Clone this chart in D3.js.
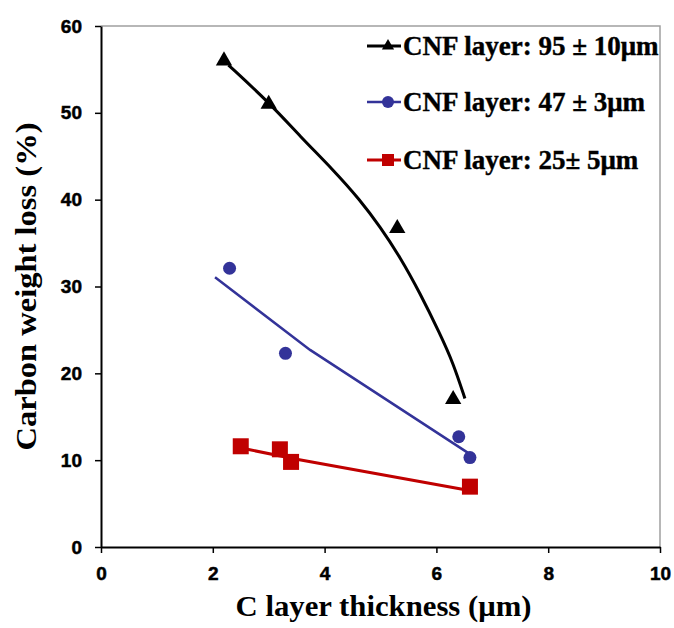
<!DOCTYPE html>
<html>
<head>
<meta charset="utf-8">
<script src="https://cdn.jsdelivr.net/npm/d3@7.9.0/dist/d3.min.js"></script>
<style>
  body { margin: 0; background: #fff; }
  svg { display: block; }
</style>
</head>
<body>
<svg id="chart" width="674" height="628"></svg>
<script>
// measured points
const blackX = [2.2, 3.0, 5.3, 6.3];
const blackY = [56, 51, 36.7, 17];
const blueX = [2.3, 3.3, 6.4, 6.6];
const blueY = [32.1, 22.3, 12.7, 10.3];
const redX = [2.5, 3.2, 3.4, 6.6];
const redY = [11.6, 11.25, 9.8, 6.95];

// trend lines as drawn in the figure
const blackTrendX = [2.28, 3.02, 3.56, 4.16, 4.63, 4.99, 5.35, 5.71, 6.06, 6.30, 6.51];
const blackTrendY = [55.5, 51.1, 47.3, 43.4, 40.0, 36.9, 33.4, 29.2, 24.6, 21.2, 17.1];
const blueTrendX = [2.04, 3.74, 6.6];
const blueTrendY = [31.06, 22.7, 10.7];
const redTrendX = [2.62, 3.5, 6.54];
const redTrendY = [11.25, 10.1, 6.56];

const xTicks = [0, 2, 4, 6, 8, 10];
const yTicks = [0, 10, 20, 30, 40, 50, 60];
const legendLabels = ['CNF layer: 95 \u00b1 10\u03bcm', 'CNF layer: 47 \u00b1 3\u03bcm', 'CNF layer: 25\u00b1 5\u03bcm'];

const svg = d3.select('#chart');
const plotL = 101, plotR = 660, plotT = 26, plotB = 547;

let x = d3.scaleLinear().domain([0, 10]).range([plotL, plotR]);
let y = d3.scaleLinear().domain([0, 60]).range([plotB, plotT]);

// grey frame on top and right
svg.append('path')
    .attr('d', `M${plotL},${plotT}H${plotR}V${plotB}`)
    .attr('fill', 'none')
    .attr('stroke', '#a0a0a0')
    .attr('stroke-width', 1.5);

let yAxis = svg.append('g')
    .attr('transform', `translate(${plotL},0)`)
    .call(d3.axisLeft(y).tickValues(yTicks).tickSize(6).tickPadding(13).tickSizeOuter(0));
let xAxis = svg.append('g')
    .attr('transform', `translate(0,${plotB})`)
    .call(d3.axisBottom(x).tickValues(xTicks).tickSize(6).tickPadding(14).tickSizeOuter(0));

[xAxis, yAxis].forEach((ax) => {
    ax.select('.domain').attr('stroke', '#000').attr('stroke-width', 2);
    ax.selectAll('.tick line').attr('stroke', '#000').attr('stroke-width', 1.5);
    ax.selectAll('.tick text')
        .attr('fill', '#000')
        .attr('stroke', '#000')
        .attr('stroke-width', 0.5)
        .style('font-family', '"Liberation Sans", Arial, sans-serif')
        .style('font-weight', 'bold')
        .style('font-size', '19px');
});

const serif = '"Liberation Serif", "Times New Roman", serif';

svg.append('text')
    .attr('x', (plotL + plotR) / 2 + 3)
    .attr('y', 616)
    .attr('text-anchor', 'middle')
    .attr('textLength', 296)
    .attr('lengthAdjust', 'spacingAndGlyphs')
    .style('font-family', serif)
    .style('font-weight', 'bold')
    .style('font-size', '30px')
    .text('C layer thickness (\u03bcm)');

svg.append('text')
    .attr('transform', `translate(36,${(plotT + plotB) / 2}) rotate(-90)`)
    .attr('text-anchor', 'middle')
    .attr('textLength', 328)
    .attr('lengthAdjust', 'spacingAndGlyphs')
    .style('font-family', serif)
    .style('font-weight', 'bold')
    .style('font-size', '30px')
    .text('Carbon weight loss (%)');

const series = [
    { xs: blackX, ys: blackY, tx: blackTrendX, ty: blackTrendY, color: '#000000', shape: 'triangle', width: 3, curve: d3.curveBasis },
    { xs: blueX, ys: blueY, tx: blueTrendX, ty: blueTrendY, color: '#333399', shape: 'circle', width: 2.5, curve: d3.curveLinear },
    { xs: redX, ys: redY, tx: redTrendX, ty: redTrendY, color: '#c00000', shape: 'square', width: 3, curve: d3.curveLinear }
];

function marker(g, shape, color, size) {
    if (shape === 'triangle') {
        g.append('path').attr('d', d3.symbol(d3.symbolTriangle, size * size * 0.45)()).attr('fill', color);
    } else if (shape === 'circle') {
        g.append('circle').attr('r', size / 2).attr('fill', color);
    } else {
        g.append('rect').attr('x', -size / 2).attr('y', -size / 2)
            .attr('width', size).attr('height', size).attr('fill', color);
    }
}

series.forEach((s) => {
    let pts = s.tx.map((v, i) => [x(v), y(s.ty[i])]);
    svg.append('path')
        .attr('d', d3.line().curve(s.curve)(pts))
        .attr('fill', 'none')
        .attr('stroke', s.color)
        .attr('stroke-width', s.width);
    s.xs.forEach((v, i) => {
        let g = svg.append('g').attr('transform', `translate(${x(v)},${y(s.ys[i])})`);
        marker(g, s.shape, s.color, s.shape === 'circle' ? 13 : 16);
    });
});

// legend
const legendY = [46, 102, 160];
series.forEach((s, i) => {
    let g = svg.append('g').attr('transform', `translate(0,${legendY[i]})`);
    g.append('line')
        .attr('x1', 367).attr('x2', 401)
        .attr('stroke', s.color).attr('stroke-width', s.width);
    let m = g.append('g').attr('transform', 'translate(388,0)');
    marker(m, s.shape, s.color, 12);
    g.append('text')
        .attr('x', 403)
        .attr('y', 9)
        .attr('stroke', '#000')
        .attr('stroke-width', 0.4)
        .style('font-family', serif)
        .style('font-weight', 'bold')
        .style('font-size', '27px')
        .text(legendLabels[i]);
});
</script>
</body>
</html>
